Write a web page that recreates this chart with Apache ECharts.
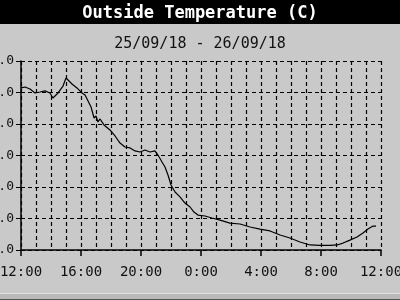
<!DOCTYPE html>
<html><head><meta charset="utf-8">
<script src="https://cdn.jsdelivr.net/npm/echarts@6/dist/echarts.min.js"></script>
<style>html,body{margin:0;padding:0;background:#c9c9c9;}#c{width:400px;height:300px;}</style>
</head><body><div id="c"></div>
<script>
const titleText = "Outside Temperature (C)";
const subtitleText = "25/09/18 - 26/09/18";
// hours since 12:00 on 25/09/18
const hours = [0,0.27,0.6,0.93,1.27,1.6,1.93,2.13,2.47,2.8,3.0,3.2,3.4,3.73,4.07,4.27,4.47,4.67,4.87,5.0,5.13,5.27,5.53,5.93,6.27,6.6,6.93,7.27,7.6,7.93,8.27,8.6,8.93,9.13,9.4,9.6,9.8,10.0,10.27,10.6,10.93,11.27,11.53,11.8,12.27,12.73,13.27,13.93,14.6,15.27,15.93,16.6,17.27,17.93,18.6,19.27,19.93,20.6,21.07,21.47,21.93,22.4,22.8,23.13,23.47,23.67];
const temps = [16.29,16.35,16.22,15.97,16.03,16.10,15.97,15.65,15.97,16.41,16.92,16.73,16.54,16.29,15.97,15.84,15.46,15.08,14.38,14.51,14.13,14.32,13.94,13.62,13.24,12.79,12.54,12.48,12.29,12.22,12.35,12.22,12.29,12.03,11.59,11.27,10.76,10.13,9.68,9.37,8.98,8.73,8.41,8.22,8.16,8.03,7.90,7.71,7.65,7.46,7.33,7.21,6.95,6.76,6.51,6.32,6.29,6.29,6.32,6.44,6.63,6.83,7.08,7.33,7.52,7.52];
const xTickLabels = ["12:00","16:00","20:00","0:00","4:00","8:00","12:00"];
const yMin = 6, yMax = 18, yStep = 2;

const chart = echarts.init(document.getElementById('c'), null, {renderer:'canvas'});
const mono = "'DejaVu Sans Mono', 'Liberation Mono', monospace";
const dash = {color:'#000', type:[4,3], width:1.2};
chart.setOption({
  backgroundColor:'#c9c9c9',
  animation:false,
  graphic:[
    {type:'rect', shape:{x:0,y:0,width:400,height:24}, style:{fill:'#000'}},
    {type:'text', x:200, y:14, style:{text:titleText, fill:'#fff', font:'bold 17px '+mono, align:'center', verticalAlign:'middle'}},
    {type:'text', x:200, y:44, style:{text:subtitleText, fill:'#111', font:'15px '+mono, align:'center', verticalAlign:'middle'}},
    {type:'rect', shape:{x:0,y:293,width:400,height:1}, style:{fill:'#e2e2e2'}},
    {type:'rect', shape:{x:0,y:294,width:400,height:6}, style:{fill:'#b9b9b9'}},
    {type:'rect', shape:{x:0,y:299,width:400,height:1}, style:{fill:'#555'}}
  ],
  grid:{left:21, right:19, top:61, bottom:50, containLabel:false, outerBoundsMode:'none'},
  xAxis:{
    type:'value', min:0, max:24, interval:4,
    axisLine:{lineStyle:{color:'#000', width:1.5}},
    axisTick:{show:true, length:6, lineStyle:{color:'#000', width:1.5}},
    minorTick:{show:false, splitNumber:4},
    splitLine:{show:true, lineStyle:dash},
    minorSplitLine:{show:true, lineStyle:dash},
    axisLabel:{color:'#111', fontFamily:mono, fontSize:14, margin:15,
      formatter:(v)=>xTickLabels[Math.round(v/4)]}
  },
  yAxis:{
    type:'value', min:yMin, max:yMax, interval:yStep,
    axisLine:{show:true, lineStyle:{color:'#000', width:1.5}},
    axisTick:{show:true, length:5, lineStyle:{color:'#000', width:1}},
    splitLine:{show:true, lineStyle:dash},
    axisLabel:{color:'#111', fontFamily:mono, fontSize:13, margin:7,
      formatter:(v)=>v.toFixed(1)}
  },
  series:[{
    type:'line', data:hours.map((h,i)=>[h,temps[i]]),
    symbol:'none', lineStyle:{color:'#000', width:1.2}, silent:true
  }]
});
</script></body></html>
